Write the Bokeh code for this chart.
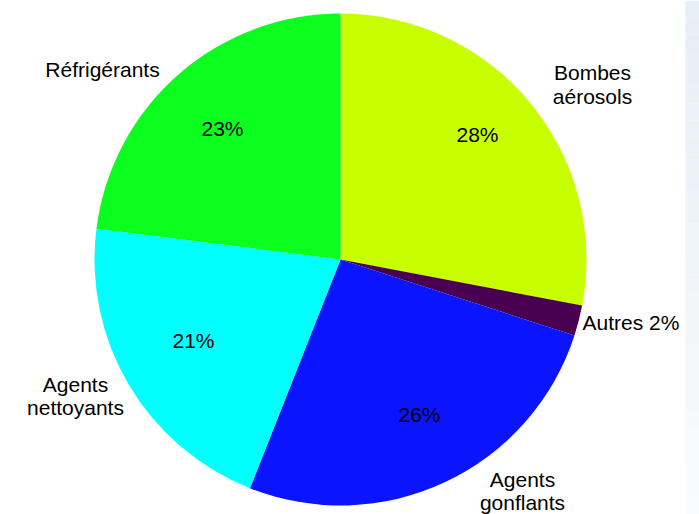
import numpy as np
from bokeh.plotting import figure
from bokeh.models import Range1d, ColumnDataSource
from bokeh.core.properties import value
from bokeh.embed import file_html
from bokeh.resources import INLINE

W, H = 699, 514

# Data (clockwise from top)
categories = ["Bombes aérosols", "Autres", "Agents gonflants", "Agents nettoyants", "Réfrigérants"]
shares = [28, 2, 26, 21, 23]
colors = ["#c8ff00", "#4a0050", "#0a14ff", "#00ffff", "#0aff1e"]
pct_labels = ["28%", "", "26%", "21%", "23%"]

cx, cy, r = 340, H - 259, 246

fracs = np.array(shares, dtype=float) / sum(shares)
cum = np.concatenate([[0], np.cumsum(fracs)])
start = np.pi / 2 - 2 * np.pi * cum[:-1]
end = np.pi / 2 - 2 * np.pi * cum[1:]

p = figure(width=W, height=H, x_range=Range1d(0, W), y_range=Range1d(0, H),
           output_backend="svg", toolbar_location=None, min_border=0)
p.axis.visible = False
p.grid.visible = False
p.outline_line_color = None
p.background_fill_color = "white"
p.border_fill_color = "white"

# light-blue strip on the right edge (page background)
n = 30
ys = np.linspace(0, H, n + 1)
strip_cols = []
for i in range(n):
    t = i / (n - 1)  # 0 bottom .. 1 top
    rr = int(250 - 20 * t)
    gg = int(251 - 12 * t)
    bb = int(252 - 6 * t)
    strip_cols.append("#%02x%02x%02x" % (rr, gg, bb))
p.quad(left=[685] * n, right=[W] * n, bottom=ys[:-1], top=ys[1:],
       fill_color=strip_cols, line_color=None)

src = ColumnDataSource(dict(start=start, end=end, color=colors, cat=categories))
p.wedge(x=cx, y=cy, radius=r, start_angle="start", end_angle="end",
        direction="clock", fill_color="color", line_color=None, source=src)

font = value("Liberation Sans")
dy = 8  # baseline correction

# percent labels (inside)
pct_x = [477, None, 419, 193, 222]
pct_y = [142, None, 422, 348, 136]
px, py, pt = [], [], []
for lab, x, y in zip(pct_labels, pct_x, pct_y):
    if lab:
        px.append(x); py.append(H - y + dy); pt.append(lab)
p.text(x=px, y=py, text=pt, text_font=font, text_font_size="21px",
       text_align="center", text_baseline="alphabetic", text_color="#000000")

# outer labels
ol_text = ["Réfrigérants", "Bombes", "aérosols", "Autres 2%", "Agents", "nettoyants", "Agents", "gonflants"]
ol_x = [102, 592, 592, 582, 75, 75, 522, 522]
ol_y = [77, 80, 104, 330, 392, 415, 487, 510]
ol_align = ["center", "center", "center", "left", "center", "center", "center", "center"]
p.text(x=ol_x, y=[H - y + dy for y in ol_y], text=ol_text, text_font=font, text_font_size="21px",
       text_align=ol_align, text_baseline="alphabetic", text_color="#000000")

open("out.html", "w").write(file_html(p, INLINE))
